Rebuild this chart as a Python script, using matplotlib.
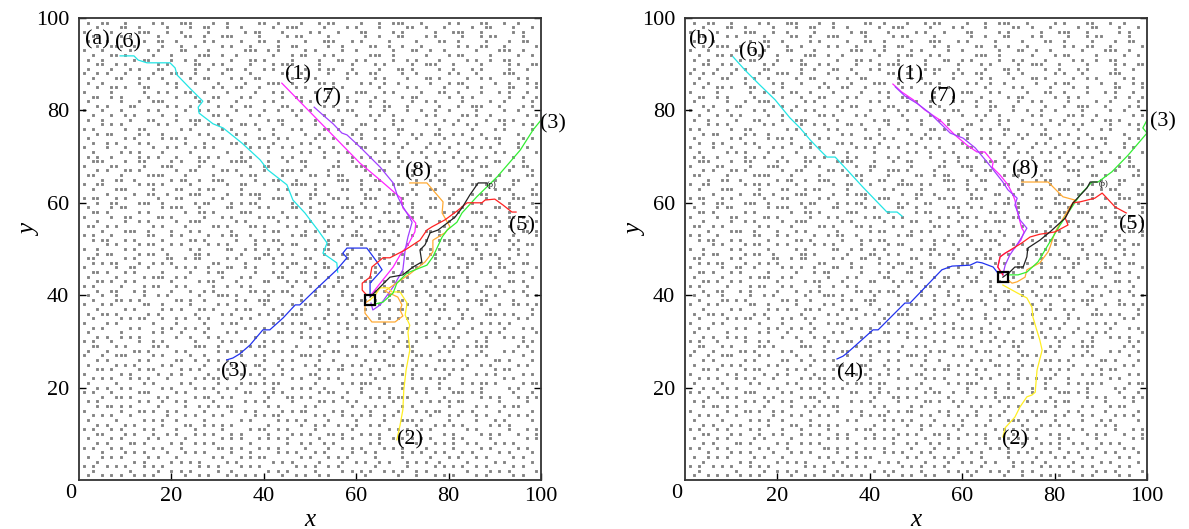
import matplotlib.pyplot as plt

plt.rcParams['font.family'] = ['Liberation Serif', 'DejaVu Serif']

# obstacle map, first string is row y=99, first char is x=1 ('#' = obstacle)
obstacle_rows = [
    ".#..##...#.....#.#...###....#..#......##..#....#...#.##.....#...#..###...#.....#.#....##...#..#....#.",
    "...#....##..#.....#....#..##...#..#......#..###.....#....#.#....#.....##..#...#.....#..##....#...#...",
    "#.....#.....###...#..#.....#.......#.##....#.....#.#...#....##.....#.#......#...###...#......#.#...#",
    "..##....#.#.....#.....##..#...###.....#.....#.##.....#.......#..#...##....#.#.....#...#.##.....#....",
    ".#...#.......#..##..#.....#.#.....#...##..#.....#...###...#.#.....#.....#....##..#.....#....#..##..#",
    "...#..###..#.....#...#..#.....#.#...#.....#..##......#..#.....##..#..#...#.......#.#..##...#......#.",
    "#...#.....#...#.#....##....#.......###..#.#.....#.#.....#..#.......#...##..#..#......#....###..#....",
    "..#...##.#.....#...#.....###..#..#.......#...#.##...#.#.......###..#......#....#.##.....#.....#..#.#",
    ".#..#......#.##....#..#.#.......#...##.#.....#.....#...##..#.#.....#..#.#....#.....#.#..#..##.......",
    "...##..#.#......#.#.....##..#.#.....#....#.###.....#......#....#.#.....#..###...#.....#.....#.#..##.",
    ".#....#...#.#...##......#..#...##..#...#.#......#..#.##...#.....#...##.#.....#..#...#.#.....#...#..#",
    "#..#.#...#.....#...###..#.....#.....#......##..#.....#...#.#..##.....#..#......#.#...#.....###.....#",
    "..#....##...#.#..#.....#..##....#.#..##......#..#.#......#.....#.#....#...##.#.....#..#.#.....#.#...",
    ".#..#.......#.....#.#...#....#.....#....###..#.....##.#.....#.#..#..#......#...#.##......#..#...#.#.",
    "...#..##.#...##.....#.......#.#..##...#.......#.#.....#.#.......#.....#.#.....#....#..#.....##....#",
    "#.....#......#..#.#...##..#....#.....#...#.#......#..#.....###...#.#.....#...##..#....#...#.#...#...",
    "..##..#.#.....#.....#...#...##....#.#......#..##.....#...#.....#.....#.##......#..#.#.......#..#..#.",
    ".#......#...#..###.......#.#.....#.....#.#.....#.#..#....#.#..#..#.....#..#.#.....#.....#..#.....#..",
    "...#.#....##......#.#..#.....#..#..##......##.......#.#.......#..##...#......#...#..###...#....#.#..#",
    "#...#...#.....#.#.....#..#.#.....#.....#..#..#.#.#.....#.##......#....#..#..#..#.....#.....#..#....#.",
    "..#...#..#.#.....#..#.......##.#....#.#.......#.....#......#..#.#..#......#.#.....##.#..#.......#.#..",
    ".#..#.....#...##....#..###......#.......#.##...#..#...#.#......#...#.#..#.....#..#.....#..##.#......#",
    "....#.#.#.......#.#.....#..#.#....##.#.....#......#.....#...##.....#......#.#...#..#.#.....#...#.#...",
    "#.#......#..##.......#.#......#.#.....#..#...#.#....##.#...#...#.#..##.......#......#....#.#.....#.#.",
    "...#.##.....#.#..#.......#.#.....#.#.....#......#..#......#.#.......#..#.#..##..#.#...#.......#.....#",
    ".#.......#.#.....#.##.#.....#.#.......##..#.#.....#.#.#.....#..#.#......#.....#.....#..#.##....#.#...",
    "..#..#.#....#.#.......#...#.....##.#.....#.....#.#.......#.#.....#.#..#....#.#...#.#......#...#....#.",
    "#....#...#.....#..#.#...#.#.#.......#.#.#..#.#.....#..#.....##.......#....#....#....#.#.#.....#.#....",
    "..#.....#.#.#....#.....#.......#..#.....#......#.#..#..#.#.....#.#..#..#.#..#.#..#.......#.#......#.#",
    ".#.#..#.....#.#.#...#....#.#.#....#.#......#.#......#.....#.#.#.....#.....#.....#..#.#.#.....#.#....",
    "..###....#..##.....#.#...##.....####....#...#..##......#..#.....###..#.......##...#.#....##....#...#",
    "#.....##.....#...###.....#..#.......#..##.......#.....##...###......#...##.#.....#....##.....#.##...",
    "...#.#...##.#.......#..##.....##.#.....#...###.#.....#.......#..##.....#.....##...###.......#....#.#",
    ".##.....#.....####....#.....#.....#.##.....#.....##..#.##.....#.....#.##....#.......#..##.#.....##..",
    "....#..##..#.......#.##..#..###......#...##...#........###..#..##.......#..#.##...#......#...##....#",
    "#..##.......#.##.#.....#.......#..##...#.....####.#.#.......#......###..#.....#.....##.#.....#....#..",
    "..#....###.....#....##...#.##.....#.......#.#.....#.....##..#.#.#......#...##...###......#.##....#.#.",
    ".....#.....#..##..#....###.....#..#.###.......#..##..#.......#....##..#.#.......#...#.##.....#...##..",
    "#.##...#.#......#...##......#.#.......#..###.....#....##.#...###.....#.....##..#.......#..#..###....#",
    "...#..##....###..#......#.##....#.#.##.......#.#...##.......#.....#.##.#.......###..#.#.....#....#..",
    ".#....#.##.......#.###...#.....##.....#.#....##..#......###..#.#.......#...##.....#......##.#..#..#.",
    "..##.#......#.#.......#..##.#.....###......#.....#.##.....#......##.#..#......#.##..###.....#.....#.",
    "#.....#..##.....##.#......#...#.#.....#.##..#.#.......#.#..##.#.......##.#......#......#.#..##.#....",
    "...#.....#..#.#.....#..###.......#.#......#.....##..#.....#.....#.###.....#..#.#..##......#.....#.##",
    ".##..#.#.......#.#....#.....##.#....##.#....#.#......##.#...#.#.......#.#.....#.....#.###...#.#.....",
    "....#....###..#....#...#.#......#......#.##.....#.#.#......#....##.#......##.#..#.#.......#....##.#.",
    "#.#...#.......##...#.#.....#..#.##..#........#.##.......#.###.......#..#.....#......#.#.##...#....#.",
    "..#.##...#.#.....#.....##.#......#...#.#.##.......#..#.#.....#.#.##.......#..###.#.......#..#.#.....",
    ".....#.#....#.##...#.#.....#.#.#.....#.....#.##......#...#..#......#..#.#......#..#.##.#.....#..##.#",
    "#..#.....#.#.....#.....#.#.....##..#.#..#.#.....#.#.##....#...##.#.......#.#.#.......#......#.#.....",
    "...#.##.....#.##..#.....##.#......#....##..#.#......#.#.##......#..#.#.....##.#.#.....#.##....#.#.",
    ".##......#.#......##..#.##.....#.#...##..#......##.......#..#.#.##....#.....#....##.#.#...#.#......",
    "..#.#.##....#..#.#.#........##.....#.....#.#.##...#.#......##.....#.#..#.#..#......##.....#..#.##",
    "#......#..##..#.....#.#.#..#...##..#.#......#...#...##..#.#..#.#.......##...#..#.#.#....#.##......#.",
    "..##.#...#.#.....#.....#...#.##......#...#.#...##.#.......#....#...#.##...#.......#...#.#...##.#....",
    ".#.....#.....#.###..#.#.......#...#.#.....##......#..#.##...#.#.......#.....#.###..#.....#.......#.#",
    "...##.#..#.#.......#.....#.##....#.....##...#.#.#......#.....##..#.#.#...#.#.......#.#......##.#....",
    "#.#.....#....#.##...#.#.....#..#..#.#........#...#.##.#..#.#.....#.....#....#.#.##.....##.#.....#..#",
    "...#..##...#.#.....#...#..#.#.......##.#.#.##.....#.....#......#.#..##..#.#........#..#....#.#.#....",
    ".#..#..#.....#..#.#......#...###.#......#....#.#..#..#..#.#.......#.....#..#.##.#......#.#......#.#.",
    "..#....##.#.#.......##.#..#......#.#..###......#.....#....#.##.#..#..#......#....#.#.###.....#......",
    "#...#.#......##..#.....#.....#.#.......#...#.#..##.#...#.#......#.....#.#.#...#.......#...#..##.#.#.",
    "...#.....#.#.....#.#.#...##.#....#.##....#.....#.....#.....#.#....#.##.....#.##..#.#....#........#..",
    ".#..##.#......#.#.......#.....#.#.....#.#..#.###.....#.#..#.....#.......#.#.......#....###.#.#...#.#",
    "..#.....#.#.##...#..#.#..#.#......#.#.....#.......#.#......#.#..#.#.#.#......#.#..#.#.........#.#...",
    "#....#.#.......#....#.....#...#.##.......#.#.#.##....#.#.#.......#......#.#.#....#....#.#.#.#......#",
    "..#.#.....#.#....#.#..#.#..#.......#.#.#.........#.#.....#.#.#.#...#..#.......#.#...#......#...#.#..",
    ".#......#......#.#...#....#....#.#.....#..##.#.#.....#.#.......#.#...#..#.#.#......#..#.#.#.......#.",
    "...#.#..#.#.#.......#..#...#.#.......#.........#.#.#.....#.#.#....#.......#..#.#.#.....#...#.#.#....",
    "#.#...#.....#..#.#......#.....#.#.##...#.#.#.........#.#.......#.#..#.#.#.......#....#.#.......#.#.#",
    "..##...#.#.....##.#.....###..#......#.##......#..#.#......##.#.....#..##......#.#..#.###......#.#...",
    ".#...#.....##.#.....#.#......#.#.##......#.#.#......#.##......#.##.....#.....#.#......#....#.#...#.#",
    "#...#..###.....#.#.....#..#.......#..#.#.......###.#.....#.#.......#.#..##.#.......#.#.#.......#....",
    "...#.#......#.#.....##..#..#.#.#.......#...#.#.....#..#......#.#.#.....#.....##.#.#......##.#....#..",
    ".#.....#.#.#.....#.#......#.....##.#.##...#.....#.#.....#.#.#.....##.#..#.#........#..#.#.....#.#..#",
    "...##.#.....#.##.....#.#.#...#.#.......#...#.#.....#.#.##.....#.#......#....#.#.#.#......#.##.......",
    "#.......#.#.....#..#.#.....#......#.#.#..#.#.....##.......#.#.#....#.#.#.......#.....#.#.#.....#.#.#",
    "..#.#.#...#.#.#...#.....#.#.##.#.......#.....#.#...#.#.#.......#.#.....#.#.#.##...#........#.#......",
    ".#.....#.....#.#.....#.#.....#....#.##.#.##.......#.....#.#.###......#.......#....#.#.##.#.....#.##.",
    "...#.#..#.#......#.#....#.#.#..#.#.......#...#.#.#..#.......#...#.#..#.#..#..#.#......#.....#.#....#",
    "#.#...#.....###.....#.#......#.....##..#.#.#.......#.##..#..#.....#.....#.#.....###.#.#......#...#..",
    "....#..##.#.....#.#.....#.##..#.#.......#...##.#.#......#.....#.#.#.###.......#.......#.#.#...#.#.#.",
    ".#.#........#.#..#..#.#.....#......#.#.#.....#.....##.#..#.#.......#.....#.#.#.#.##.......#.....#..",
    "...#.##.#.#.....#.....#..#.#.#.##.......#.#.....#.#.......#..#.#.#...#.#.......#.....#.#...#.##....#",
    "#.......#...##.#..#.#.....#.....#..#.#.....#.#.##.....#.#.....#.....#...#.#.##....#.#.....#......#..",
    "..#.#.#...#.......#...#.#...#.#......#.#.##.......#.#...#.#.#.#..#.#.......#...#.#...#.#....#.#.#...",
    ".#.....#.....#.#.#..#.....#.......#.#.....#.#.#.#....#.....#.....#...###.#.....#.....#...#.#.....#.#",
    "...#.#...#.#.....#....##..#.#.#.#.......#......#..#.#..#.#.#..#.#.......#...#.#.#.#.....#.#.#.......",
    "#.#...#.#....#.#....#...#.....#.....#.##..#.#.....#.......#.......#.#.#..#.#.......#.#......#...#.#.",
    "...##....#.#...#..#.#...#.#.#...#.#.....#....#.#.#...##.#...#.#.#.....#.......#.#.....#.#.#...#...#",
    ".#....#.#.....#.#.....#.......#.#.#...#.#.#.#......#....#.#.....#..#.#.#.#.#....#.#.....#.......#.#.",
    "...#.#....##.#.....#.#..#.#.#.......#.......#..#.#..#.#.......#.#.......#...#.#.#..#.#...#.#.#......",
    "#.#...#.#......#.#...#.......##.#.#...#.#.#.....#....#..#.#.#....#.#.#....#.....#.....#.#.....#.#..#",
    "....#....#.#.#....#...#.#.#.....#...#.....#.#.#...#.#.....#..#.#.....#.#.#..#.#...#.#.....#.#....#..",
    ".#..#.#.#.....#.#...#.......#.#...#.#.##.......#.#...#.#.#.....#.....#.....#...#.#...#.#.....#.#....",
    "...#.......#.#.....#.#.#.#.....#.#.......#.#.#.....#....#..#.#..#.#...#.#.#..#.....#.....#.#.....#.#",
    "#.#..#.#.#...#.#.#.......#.#.#....#.#.#.......#.#.#..#.#.......#......#.....#.#.#.#..#.#.....#.#....",
    "..#.......#.....#..#.#.#.....#..#.......#.#.#.....#.....#.#.#.#..#.#.#..#.#........#....#.#.#.....#.",
    ".#..#.#.#..#.#.#......#..#.#...#.#.#.#.....#..#.#..#.#.......#......#...#...#.#.#....#.#.....#.#...#",
]

# ---------------- panel (a) ----------------
goal_a = (63.0, 39.0)
a_magenta_x = [43.9, 60.8, 65.2, 69.7, 70.1, 72.9, 72.7, 71.2, 69.5, 68.0, 65.2, 63.0]
a_magenta_y = [85.9, 68.6, 64.9, 61.0, 58.9, 55.6, 53.7, 50.9, 48.7, 46.1, 42.6, 39.8]
a_yellow_x = [68.8, 69.5, 70.1, 70.3, 70.8, 71.6, 71.2, 71.6, 70.6, 71.0, 69.5, 67.7, 66.9, 65.2, 64.1, 63.0]
a_yellow_y = [8.7, 11.9, 15.2, 19.5, 23.8, 28.1, 32.0, 33.5, 35.7, 38.3, 40.7, 40.7, 41.6, 41.6, 40.0, 39.0]
a_green_x = [100.0, 98.3, 95.5, 90.5, 86.1, 82.9, 81.8, 79.7, 78.6, 76.6, 75.3, 71.0, 68.8, 68.0, 65.8, 64.1]
a_green_y = [77.9, 75.8, 71.4, 65.6, 61.3, 57.8, 55.8, 54.1, 52.6, 48.3, 46.5, 44.8, 42.6, 40.5, 38.5, 38.1]
a_blue_x = [32.0, 33.3, 34.8, 37.0, 39.8, 41.3, 44.2, 46.8, 47.8, 51.1, 55.8, 58.0, 57.1, 58.0, 62.3, 64.5, 65.6, 63.0, 63.0]
a_blue_y = [26.0, 26.4, 27.3, 29.2, 32.5, 32.5, 35.1, 37.9, 37.9, 41.1, 45.5, 48.1, 49.1, 50.2, 50.2, 47.2, 45.5, 42.6, 40.0]
a_red_x = [94.6, 93.7, 91.8, 90.0, 87.9, 87.2, 84.0, 81.8, 79.2, 76.4, 75.3, 73.8, 70.6, 67.3, 65.8, 63.4, 63.0, 61.3, 61.3, 62.3]
a_red_y = [58.0, 58.0, 59.5, 60.8, 60.6, 60.0, 60.0, 58.2, 56.3, 54.8, 54.1, 51.9, 49.8, 48.1, 48.1, 46.1, 43.9, 42.6, 41.1, 40.0]
a_cyan_x = [8.9, 11.9, 12.8, 14.7, 19.7, 20.8, 21.2, 24.0, 26.8, 25.8, 26.0, 29.0, 31.2, 35.3, 39.2, 40.9,
            45.0, 46.3, 48.9, 51.7, 53.7, 52.8, 55.8, 56.0]
a_cyan_y = [91.8, 91.8, 90.9, 90.3, 90.3, 89.2, 87.7, 84.8, 82.0, 80.7, 79.4, 77.1, 76.2, 72.9, 69.3, 67.1,
            63.9, 60.6, 57.8, 54.1, 51.3, 49.1, 47.0, 45.0]
a_purple_x = [50.9, 52.8, 55.0, 56.9, 58.0, 60.8, 61.5, 65.2, 68.0, 69.0, 69.9, 71.2, 72.1, 71.2, 70.6, 70.1,
              68.0, 65.2, 63.6, 63.2]
a_purple_y = [80.7, 79.0, 77.1, 75.1, 74.7, 72.1, 71.4, 67.7, 64.3, 61.3, 59.5, 57.4, 55.8, 52.6, 49.8, 45.5,
              41.8, 37.9, 36.8, 38.3]
a_orange_x = [71.6, 75.3, 78.8, 78.6, 80.3, 79.2, 76.6, 76.6, 74.9, 71.6, 68.4, 66.2, 69.0, 69.9, 69.5, 70.1,
              68.4, 63.4, 61.9, 61.9, 63.0]
a_orange_y = [64.3, 64.3, 60.2, 57.8, 54.8, 53.5, 51.9, 49.4, 47.2, 44.6, 42.4, 40.9, 39.6, 37.9, 36.8, 35.5,
              34.2, 34.2, 36.1, 38.3, 39.0]
a_black_x = [88.3, 86.4, 84.6, 82.9, 81.4, 77.7, 76.0, 74.9, 73.8, 74.2, 72.3, 70.1, 67.3, 63.0]
a_black_y = [64.3, 64.3, 61.7, 58.9, 56.9, 54.1, 53.5, 50.9, 49.8, 47.2, 46.1, 44.4, 43.9, 39.6]

# ---------------- panel (b) ----------------
goal_b = (68.8, 43.9)
b_magenta_x = [45.0, 46.9, 49.4, 51.9, 55.2, 58.4, 61.0, 63.2, 64.9, 66.7, 66.5, 68.2, 69.9, 71.0, 71.4, 72.1,
               72.9, 73.4, 72.7, 71.4, 69.3, 68.2, 67.7, 68.8]
b_magenta_y = [85.7, 84.0, 82.3, 80.1, 77.9, 74.7, 72.5, 71.0, 71.0, 68.8, 67.7, 66.0, 63.9, 61.7, 60.6, 57.4,
               54.5, 53.7, 51.9, 50.2, 49.1, 48.3, 46.1, 44.4]
b_yellow_x = [68.8, 69.3, 71.4, 72.5, 74.0, 75.1, 75.8, 76.2, 77.3, 76.8, 76.0, 75.3, 75.1, 74.0, 71.9, 69.9, 68.8]
b_yellow_y = [9.3, 11.3, 13.6, 15.8, 18.0, 18.4, 19.0, 23.8, 28.1, 30.3, 32.9, 35.3, 37.4, 39.4, 40.5, 41.6, 42.2]
b_green_x = [100.0, 99.1, 100.0, 95.9, 92.4, 89.4, 88.1, 85.5, 83.3, 81.2, 78.6, 76.4, 74.0, 72.1, 70.3]
b_green_y = [77.9, 76.2, 75.1, 70.3, 66.7, 64.5, 64.5, 61.7, 58.4, 55.2, 50.9, 47.2, 45.0, 44.4, 44.4]
b_blue_x = [32.9, 34.2, 35.1, 40.7, 41.8, 47.6, 48.7, 55.6, 57.8, 61.7, 63.2, 64.3, 66.7, 67.7]
b_blue_y = [26.2, 26.8, 27.5, 32.5, 32.5, 38.3, 38.3, 45.5, 46.3, 46.5, 47.2, 47.0, 46.1, 44.8]
b_red_x = [95.5, 93.1, 90.3, 88.7, 85.5, 84.0, 82.3, 82.9, 80.1, 76.8, 74.7, 72.9, 69.3, 68.2, 67.7, 68.8]
b_red_y = [57.8, 59.1, 62.1, 61.0, 60.2, 60.0, 56.7, 55.2, 53.7, 53.2, 52.6, 51.3, 49.1, 48.3, 46.1, 44.4]
b_cyan_x = [10.4, 13.0, 16.2, 19.5, 22.7, 24.9, 27.1, 29.2, 30.7, 32.5, 35.1, 38.5, 43.7, 45.9, 47.0]
b_cyan_y = [91.6, 88.7, 85.5, 82.3, 78.4, 76.2, 73.6, 71.4, 69.9, 69.9, 67.1, 63.4, 58.0, 58.0, 57.1]
b_purple_x = [45.5, 47.6, 50.4, 53.0, 57.4, 60.2, 62.8, 65.4, 68.8, 69.9, 71.9, 71.4, 72.1, 72.5, 74.0, 72.9,
              72.1, 70.3, 69.3, 68.8]
b_purple_y = [85.1, 83.1, 81.4, 79.4, 75.1, 74.0, 71.9, 68.8, 64.5, 62.8, 61.0, 59.5, 57.8, 56.3, 54.5, 52.6,
              51.3, 48.7, 46.5, 44.4]
b_orange_x = [72.9, 78.6, 81.8, 84.4, 83.3, 82.3, 80.1, 79.0, 78.6, 76.8, 74.0, 73.6, 71.9, 70.8, 69.9]
b_orange_y = [64.5, 64.5, 61.3, 60.6, 59.1, 57.4, 53.7, 50.4, 49.4, 47.0, 45.5, 43.9, 42.9, 42.6, 43.3]
b_black_x = [89.2, 87.7, 87.0, 84.0, 82.3, 79.0, 76.8, 74.2, 74.0, 73.2, 71.4, 70.3, 68.8]
b_black_y = [64.5, 64.5, 63.2, 60.0, 56.7, 53.7, 51.9, 50.2, 48.3, 46.1, 46.1, 45.0, 43.9]

labels_a = [("(a)", 4.0, 95.2), ("(6)", 10.6, 94.6), ("(1)", 47.4, 87.7), ("(7)", 53.9, 82.7),
            ("(8)", 73.4, 66.7), ("(5)", 95.9, 55.0), ("(3)", 102.6, 77.1), ("(3)", 33.5, 23.4),
            ("(2)", 71.6, 8.7)]
labels_b = [("(b)", 3.7, 95.2), ("(6)", 14.5, 92.6), ("(1)", 48.7, 87.7), ("(7)", 55.8, 82.9),
            ("(8)", 73.6, 67.1), ("(5)", 96.8, 55.2), ("(3)", 103.5, 77.5), ("(4)", 35.7, 23.2),
            ("(2)", 71.4, 8.7)]
p_label_a = (89.2, 63.9)
p_label_b = (90.5, 64.1)

colors = {'magenta': '#ff22ff', 'yellow': '#ffee22', 'green': '#33ee33', 'blue': '#2233ee',
          'red': '#ff2222', 'cyan': '#22e5e5', 'purple': '#a040ff', 'orange': '#ffaa33', 'black': '#222222'}

obs_x, obs_y = [], []
for i, row in enumerate(obstacle_rows):
    row = row[:99].ljust(99, '.')
    for j, c in enumerate(row):
        if c == '#':
            obs_x.append(j + 1)
            obs_y.append(99 - i)

fig = plt.figure(figsize=(11.89, 5.29), dpi=100)
W, H = 1189.0, 529.0


def panel(left, paths, goal, labels, plabel):
    ax = fig.add_axes([left / W, 49 / H, 462 / W, 462 / H])
    ax.scatter(obs_x, obs_y, s=4.2, marker='s', c='#828282', linewidths=0, zorder=1, snap=False)
    for name, (xs, ys) in paths.items():
        ax.plot(xs, ys, color=colors[name], lw=0.9, zorder=2, clip_on=False)
    ax.plot(goal[0], goal[1], 's', ms=7, mfc='none', mec='black', mew=1.6, zorder=3)
    for t, x, y in labels:
        ax.text(x, y, t, fontsize=16, ha='center', va='center', clip_on=False, zorder=4)
    ax.text(plabel[0], plabel[1], '(p)', fontsize=6, ha='center', va='center', zorder=4)
    ax.set_xlim(0, 100)
    ax.set_ylim(0, 100)
    ax.set_xticks([20, 40, 60, 80, 100])
    ax.set_yticks([20, 40, 60, 80, 100])
    ax.tick_params(direction='in', length=5, width=1, right=True, labelsize=16)
    ax.tick_params(axis='x', pad=5)
    ax.tick_params(axis='y', pad=7)
    for s in ax.spines.values():
        s.set_linewidth(1.3)
        s.set_color('#333333')
    ax.text(-0.018, -0.03, '0', transform=ax.transAxes, fontsize=16, ha='center', va='center')
    ax.text(0.5, -0.087, 'x', transform=ax.transAxes, fontsize=18, style='italic', ha='center', va='center')
    ax.text(-0.106, 0.54, 'y', transform=ax.transAxes, fontsize=18, style='italic', ha='center',
            va='center', rotation=90)
    return ax


paths_a = {'cyan': (a_cyan_x, a_cyan_y), 'blue': (a_blue_x, a_blue_y), 'magenta': (a_magenta_x, a_magenta_y),
           'purple': (a_purple_x, a_purple_y), 'orange': (a_orange_x, a_orange_y),
           'yellow': (a_yellow_x, a_yellow_y), 'green': (a_green_x, a_green_y), 'red': (a_red_x, a_red_y),
           'black': (a_black_x, a_black_y)}
paths_b = {'cyan': (b_cyan_x, b_cyan_y), 'blue': (b_blue_x, b_blue_y), 'magenta': (b_magenta_x, b_magenta_y),
           'purple': (b_purple_x, b_purple_y), 'orange': (b_orange_x, b_orange_y),
           'yellow': (b_yellow_x, b_yellow_y), 'green': (b_green_x, b_green_y), 'red': (b_red_x, b_red_y),
           'black': (b_black_x, b_black_y)}

panel(79, paths_a, goal_a, labels_a, p_label_a)
panel(685, paths_b, goal_b, labels_b, p_label_b)

fig.savefig('out.png', dpi=100)
